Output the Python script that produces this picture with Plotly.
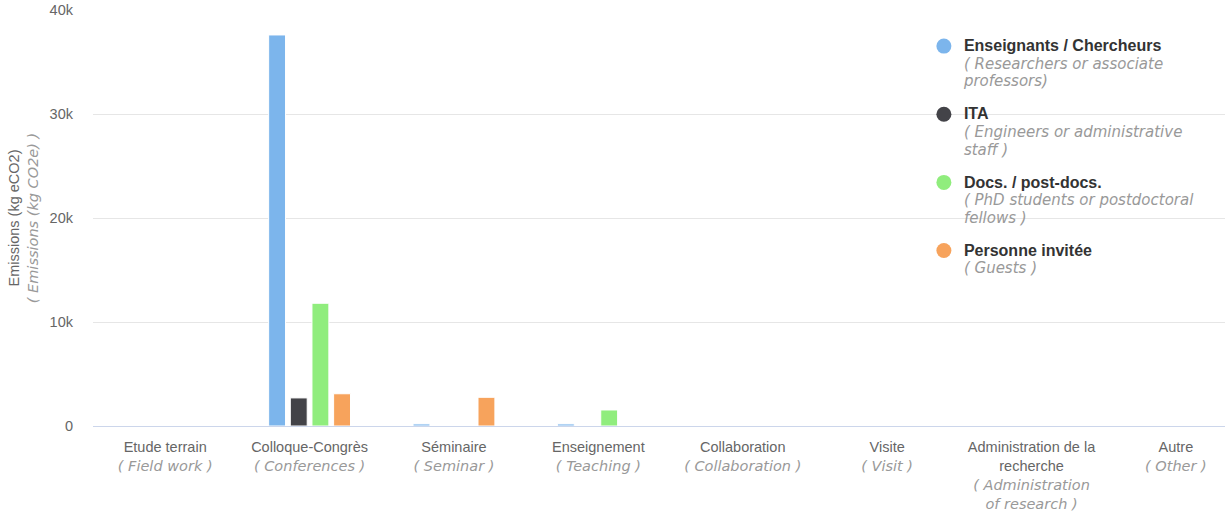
import plotly.graph_objects as go

categories_fr = ["Etude terrain", "Colloque-Congrès", "Séminaire", "Enseignement",
                 "Collaboration", "Visite", "Administration de la<br>recherche", "Autre"]
categories_en = ["( Field work )", "( Conferences )", "( Seminar )", "( Teaching )",
                 "( Collaboration )", "( Visit )", "( Administration<br>of research )", "( Other )"]

series_names = ["Enseignants / Chercheurs", "ITA", "Docs. / post-docs.", "Personne invitée"]
series_subtitles = ["( Researchers or associate<br>professors)", "( Engineers or administrative<br>staff )",
                    "( PhD students or postdoctoral<br>fellows )", "( Guests )"]

enseignants = [0, 37600, 200, 200, 0, 0, 0, 0]
ita = [0, 2700, 0, 0, 0, 0, 0, 0]
docs = [0, 11800, 0, 1540, 0, 0, 0, 0]
invites = [0, 3100, 2760, 0, 0, 0, 0, 0]

colors = ["#7cb5ec", "#434348", "#90ed7d", "#f7a35c"]
values = [enseignants, ita, docs, invites]

IT = "font-family:'DejaVu Sans';font-style:italic;color:#999999"

cat_keys = list(range(len(categories_fr)))
ticktext = [f"{fr}<br><span style=\"{IT}\">{en}</span>" for fr, en in zip(categories_fr, categories_en)]

fig = go.Figure()
for name, vals, col in zip(series_names, values, colors):
    fig.add_trace(go.Bar(x=cat_keys, y=vals, name=name,
                         marker=dict(color=col, line=dict(color="white", width=1)),
                         showlegend=False, legendgroup=name))
for name, sub, col in zip(series_names, series_subtitles, colors):
    fig.add_trace(go.Scatter(
        x=[None], y=[None], mode="markers", legendgroup=name,
        marker=dict(symbol="circle", size=15, color=col),
        name=(f"<span style=\"font-size:16px;font-weight:bold\">{name}</span><br>"
              f"<span style=\"{IT};font-size:15px\">{sub}</span>")))

fig.update_layout(
    width=1225, height=519,
    margin=dict(l=93, r=0, t=10, b=93),
    paper_bgcolor="white", plot_bgcolor="white",
    barmode="group", bargap=0.4, bargroupgap=0.22,
    font=dict(family="Liberation Sans, Arial", size=14.5, color="#666666"),
    showlegend=True,
    legend=dict(x=0.734, xanchor="left", y=0.95, yanchor="top", bgcolor="rgba(255,255,255,0)",
                valign="top", tracegroupgap=12.5,
                font=dict(family="Liberation Sans, Arial", size=13.5, color="#333333")),
    shapes=[dict(type="rect", xref="paper", yref="paper", x0=0.72, x1=1.0, y0=0.35, y1=0.95,
                 fillcolor="white", line=dict(width=0), layer="below")],
)
fig.update_xaxes(
    tickmode="array", tickvals=cat_keys, ticktext=ticktext, range=[-0.5, 7.34],
    showline=True, linecolor="#ccd6eb", linewidth=1, showgrid=False, ticks="",
    tickfont=dict(size=14.5, color="#666666"), ticklabelstandoff=8,
)
fig.update_yaxes(
    range=[0, 40000], dtick=10000, tickformat="~s",
    showgrid=True, gridcolor="#e6e6e6", gridwidth=1, zeroline=False,
    tickfont=dict(size=14.5, color="#666666"), ticklabelstandoff=19,
    title=dict(text=(f"Emissions (kg eCO2)<br>"
                     f"<span style=\"{IT};color:#b0b0b0\">( Emissions (kg CO2e) )</span>"),
               font=dict(size=14.5, color="#666666"), standoff=7),
)

fig.write_html("out.html", config={"displayModeBar": False},
               post_script="document.body.style.margin='0';")
